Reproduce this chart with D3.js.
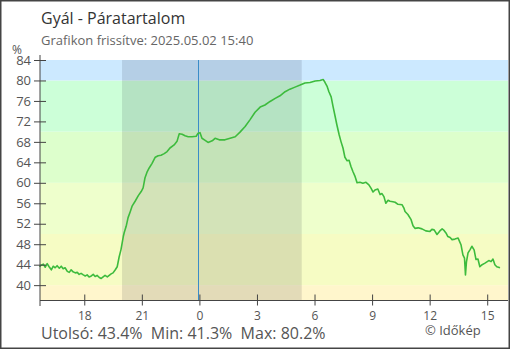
<!DOCTYPE html>
<html><head><meta charset="utf-8">
<script src="https://cdn.jsdelivr.net/npm/d3@7"></script>
<style>body{margin:0;background:#fff}svg{display:block}text{font-family:"Open Sans",sans-serif}</style>
</head><body><svg id="c" width="510" height="350"></svg>
<script>
const title = "Gyál - Páratartalom";
const subtitle = "Grafikon frissítve: 2025.05.02 15:40";
const times = ["15:40","15:45","15:52","15:58","16:04","16:10","16:17","16:23","16:29","16:35","16:42","16:48","16:54","17:00","17:07","17:13","17:19","17:25","17:32","17:38","17:44","17:50","17:57","18:03","18:09","18:15","18:22","18:28","18:34","18:40","18:47","18:53","18:59","19:05","19:12","19:18","19:24","19:30","19:37","19:43","19:49","19:55","20:02","20:05","20:11","20:17","20:24","20:30","20:39","20:49","20:58","21:04","21:10","21:17","21:23","21:32","21:42","21:51","22:00","22:10","22:19","22:28","22:41","22:50","22:57","23:06","23:15","23:25","23:37","23:50","23:56","00:02","00:08","00:18","00:27","00:40","00:49","01:02","01:20","01:36","01:52","02:07","02:23","02:38","02:54","03:10","03:25","03:41","03:57","04:12","04:28","04:43","04:59","05:15","05:30","05:46","06:02","06:17","06:27","06:33","06:39","06:45","06:52","06:58","07:04","07:10","07:17","07:23","07:29","07:35","07:42","07:48","07:54","08:00","08:07","08:13","08:22","08:31","08:41","08:50","08:57","09:03","09:09","09:18","09:25","09:31","09:37","09:43","09:50","09:56","10:05","10:12","10:21","10:34","10:40","10:43","10:52","11:02","11:08","11:14","11:24","11:36","11:48","12:01","12:07","12:14","12:23","12:32","12:39","12:45","12:51","12:57","13:04","13:10","13:19","13:29","13:38","13:44","13:49","13:52","13:55","14:00","14:06","14:12","14:19","14:25","14:31","14:37","14:44","14:53","15:05","15:12","15:18","15:24","15:30","15:40"];
const humidity = [43.6,43.9,44.1,43.5,44.2,43.6,43.0,43.7,43.4,43.8,43.3,43.7,43.2,43.4,42.7,42.5,43.0,42.6,42.4,42.5,42.1,42.3,42.0,41.8,42.0,41.6,41.8,42.1,41.7,41.9,41.5,41.3,41.6,41.9,41.6,41.9,42.2,42.4,43.0,43.6,45.5,47.0,49.5,50.3,51.5,53.2,54.4,55.5,56.4,57.5,58.3,59.0,61.0,62.2,62.9,63.8,65.0,65.3,65.4,65.7,66.1,66.8,67.4,68.1,69.6,69.5,69.2,69.0,69.0,69.1,69.7,69.8,68.7,68.3,67.9,68.2,68.7,68.4,68.4,68.7,69.0,69.9,71.0,72.3,73.8,74.8,75.2,75.9,76.5,77.0,77.8,78.3,78.7,79.1,79.5,79.6,79.9,80.0,80.2,79.6,78.9,77.8,76.8,74.9,73.1,71.3,69.4,68.0,66.8,65.0,64.3,64.4,63.2,62.2,61.2,60.0,60.1,59.9,60.1,59.6,58.9,58.2,58.6,58.8,57.7,57.9,57.3,56.0,56.6,56.4,56.3,56.2,55.8,55.7,55.0,54.4,53.8,52.8,51.6,51.1,51.2,51.0,50.6,50.5,50.9,50.8,49.9,50.6,51.0,50.7,50.2,49.5,49.3,48.9,49.0,49.2,47.9,45.9,45.3,42.0,44.5,46.3,46.9,47.6,46.9,45.0,45.1,43.6,44.0,44.3,44.8,44.6,45.1,44.0,43.6,43.4];
const yTicks = [40,44,48,52,56,60,64,68,72,76,80,84];
const xTickHours = [18,21,0,3,6,9,12,15];
const bandLimits = [37,40,50,60,70,80,84];
const bandColors = ["#fff6cc","#f6fcc4","#eeffcc","#ddffcc","#ccffd8","#cce9ff"];
const nightStart = "2025-05-01 19:58", nightEnd = "2025-05-02 05:20";
const domainStart = "2025-05-01 15:40", domainEnd = "2025-05-02 16:05";
const stats = "Utolsó: 43.4%  Min: 41.3%  Max: 80.2%";

const parse = d3.timeParse("%Y-%m-%d %H:%M");
let day = 1, prevH = -1;
const data = times.map((t,i)=>{
  const h = +t.slice(0,2);
  if (h < prevH) day = 2;
  prevH = h;
  return {date: parse(`2025-05-0${day} ${t}`), v: humidity[i]};
});

const svg = d3.select("#c");
const L = 40, R = 508, T = 60, B = 300.5;
const x = d3.scaleTime().domain([parse(domainStart), parse(domainEnd)]).range([39.5, R]);
const y = d3.scaleLinear().domain([37,84]).range([B, T]);

for (let i=0;i<bandColors.length;i++){
  svg.append("rect").attr("x",L).attr("width",R-L)
    .attr("y",y(bandLimits[i+1])).attr("height",y(bandLimits[i])-y(bandLimits[i+1]))
    .attr("fill",bandColors[i]);
}
svg.append("rect").attr("x",x(parse(nightStart))).attr("width",x(parse(nightEnd))-x(parse(nightStart)))
  .attr("y",T).attr("height",B-T).attr("fill","rgba(0,0,30,0.11)");
const mid = parse("2025-05-02 00:00");
svg.append("line").attr("x1",Math.round(x(mid))-0.5).attr("x2",Math.round(x(mid))-0.5).attr("y1",T).attr("y2",B)
  .attr("stroke","#3a8cc8").attr("stroke-width",1);

svg.append("path").datum(data)
  .attr("d", d3.line().x(d=>x(d.date)).y(d=>y(d.v)))
  .attr("fill","none").attr("stroke","#3dbb3d").attr("stroke-width",1.6).attr("stroke-linejoin","round");

const axisCol = "#444";
const yAxis = svg.append("g").attr("transform",`translate(${L},0)`)
  .call(d3.axisLeft(y).tickValues(yTicks).tickSize(0).tickPadding(9));
yAxis.select(".domain").remove();
yAxis.selectAll(".tick line").attr("x1",-6).attr("x2",6).attr("stroke",axisCol);
yAxis.selectAll(".tick text").attr("fill","#555").style("font-size","13px").style("font-family","'Open Sans',sans-serif");
svg.append("line").attr("x1",L).attr("x2",L).attr("y1",55).attr("y2",306).attr("stroke",axisCol);

const xTickDates = xTickHours.map(h=> new Date(2025,4, h>=16?1:2, h, 0));
const xAxis = svg.append("g").attr("transform",`translate(0,${B})`)
  .call(d3.axisBottom(x).tickValues(xTickDates).tickFormat(d3.timeFormat("%-H")).tickSize(0).tickPadding(11));
xAxis.select(".domain").remove();
xAxis.selectAll(".tick line").attr("y1",-6).attr("y2",5).attr("stroke",axisCol);
xAxis.selectAll(".tick text").attr("fill","#555").style("font-size","12px").style("font-family","'Open Sans',sans-serif");
svg.append("line").attr("x1",L).attr("x2",R).attr("y1",B).attr("y2",B).attr("stroke",axisCol);

svg.append("text").attr("x",41).attr("y",24).text(title).attr("fill","#333").style("font-size","16px");
svg.append("text").attr("x",41).attr("y",45).text(subtitle).attr("fill","#666").style("font-size","13px");
svg.append("text").attr("x",12).attr("y",54).text("%").attr("fill","#555").style("font-size","12px");
svg.append("text").attr("x",41).attr("y",339).text(stats).attr("fill","#555").style("font-size","16px").attr("xml:space","preserve").style("white-space","pre");
svg.append("text").attr("x",425).attr("y",335).text("© Időkép").attr("fill","#555").style("font-size","13px");

svg.append("rect").attr("x",0.75).attr("y",0.75).attr("width",508.5).attr("height",347.5)
  .attr("fill","none").attr("stroke","#444").attr("stroke-width",1.5);
</script></body></html>
